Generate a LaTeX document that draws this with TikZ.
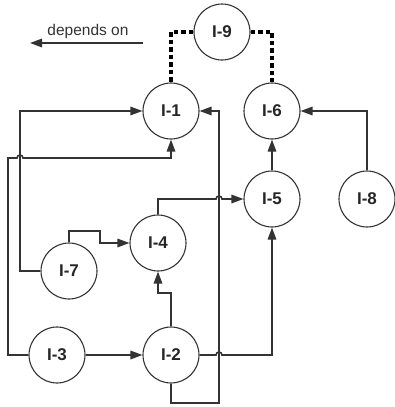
\documentclass[tikz,border=0pt]{standalone}
\usepackage{fontspec}
\setmainfont{Liberation Sans}
\usetikzlibrary{arrows.meta}
\begin{document}
\begin{tikzpicture}[x=1pt,y=1pt,
  ink/.style={draw=black!80},
  task/.style={circle,ink,line width=1.1pt,minimum size=56pt,inner sep=0pt,
    text=black!85,font=\fontsize{17}{20}\selectfont\bfseries},
  link/.style={ink,line width=1.6pt,-{Triangle[length=12pt,width=8.5pt]}},
  tie/.style={draw=black,line width=3.5pt,dash pattern=on 4.5pt off 3pt}]
\useasboundingbox (0,0) rectangle (394,-407);

% tasks
\node[task] (n9) at (222,-32)  {I-9};
\node[task] (n1) at (171,-111) {I-1};
\node[task] (n6) at (272,-111) {I-6};
\node[task] (n5) at (272,-199) {I-5};
\node[task] (n8) at (367,-199) {I-8};
\node[task] (n4) at (158,-243) {I-4};
\node[task] (n7) at (69,-271)  {I-7};
\node[task] (n3) at (57,-355)  {I-3};
\node[task] (n2) at (171,-355) {I-2};

% legend
\node[text=black!80,font=\fontsize{15.5}{18}\selectfont] (dep) at (88,-31) {depends on};
\coordinate (legR) at (143,-43);
\coordinate (legL) at (30,-43);
\draw[link] (legR) -- (legL);

% grouping ties from I-9
\draw[tie] (n9.west) -| (n1.north);
\draw[tie] (n9.east) -| (n6.north);

% dependencies
\draw[link] (n8.north) |- (n6.east);
\draw[link] (n5.north) -- (n6.south);
\draw[link] (n3.east) -- (n2.west);
\draw[link] (n2.east) -- (216,-355) arc[start angle=180,end angle=0,radius=3] -| (n5.south);
\draw[link] (n2.south) |- (219,-403) -- (219,-111) -- (n1.east);
\draw[link] (n4.north) |- (216,-199) arc[start angle=180,end angle=0,radius=3] -- (n5.west);
\draw[link] (n2.north) -- (171,-293) -| (n4.south);
\draw[link] (n7.north) -- (69,-231) -- (100,-231) -- (100,-243) -- (n4.west);
\draw[link] (n7.west) -| (20,-111) -- (n1.west);
\draw[link] (n3.west) -| (8,-158) -- (17,-158) arc[start angle=180,end angle=0,radius=3] -| (n1.south);
\end{tikzpicture}
\end{document}
